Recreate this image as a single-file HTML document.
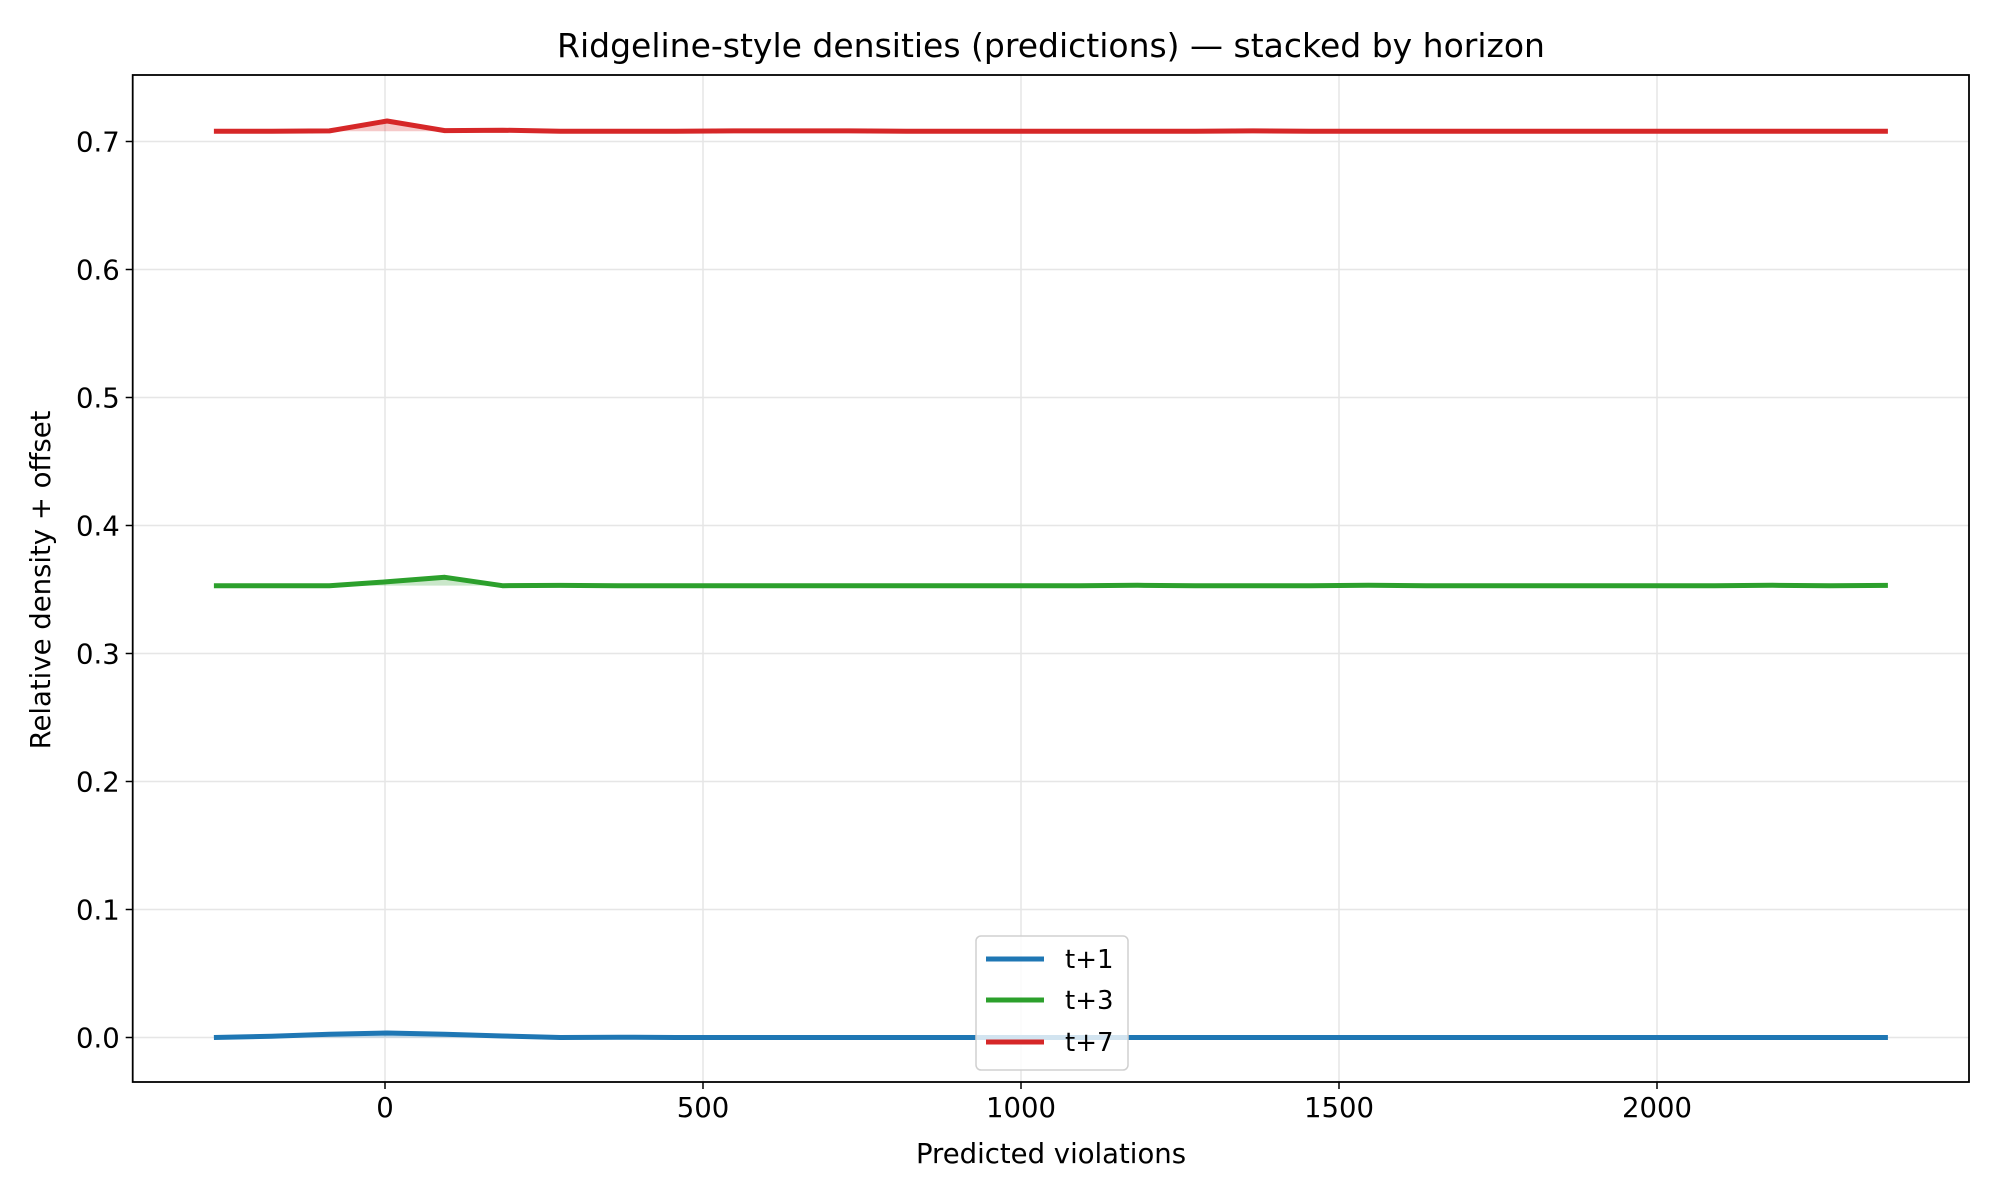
<!DOCTYPE html>
<html><head><meta charset="utf-8"><style>
body{margin:0;background:#fff}
svg{display:block;font-family:"DejaVu Sans","Liberation Sans",sans-serif}
</style></head><body>
<svg id="chart" width="2000" height="1200" viewBox="0 0 2000 1200">
<rect width="2000" height="1200" fill="#fff"/>
<text x="1051" y="57" font-size="33" text-anchor="middle">Ridgeline-style densities (predictions) — stacked by horizon</text>
<g id="grid"></g>
<g id="series"></g>
<g id="axes"></g>
<text x="1051" y="1163" font-size="27.5" text-anchor="middle">Predicted violations</text>
<text transform="translate(50,580) rotate(-90)" font-size="27.5" text-anchor="middle">Relative density + offset</text>
<g>
<rect x="976" y="936" width="152" height="134" rx="5" fill="#fff" fill-opacity="0.8" stroke="#d0d0d0" stroke-width="1.5"/>
<g><line x1="986" x2="1044" y1="959" y2="959" stroke="#1f77b4" stroke-width="5"/><text x="1065" y="968" font-size="26">t+1</text></g>
<g><line x1="986" x2="1044" y1="1000" y2="1000" stroke="#2ca02c" stroke-width="5"/><text x="1065" y="1009" font-size="26">t+3</text></g>
<g><line x1="986" x2="1044" y1="1042" y2="1042" stroke="#d62728" stroke-width="5"/><text x="1065" y="1051" font-size="26">t+7</text></g>
</g>
</svg>
<script>
const xTicks=[0,500,1000,1500,2000];
const yTicks=[0.0,0.1,0.2,0.3,0.4,0.5,0.6,0.7];
const xStart=-269, xEnd=2363, nPts=30;
const offsets=[0,0.353,0.708];
const colors=['#1f77b4','#2ca02c','#d62728'];
const names=['t1','t3','t7'];
const dens1=[0,0.001,0.0025,0.0035,0.0025,0.0012,0,0.0002,0,0,0,0,0,0,0,0,0,0,0,0,0,0,0,0,0,0,0,0,0,0];
const dens3=[0,0,0,0.003,0.0065,0,0.0002,0,0,0,0,0,0,0,0,0,0.0003,0,0,0,0.0003,0,0,0,0,0,0,0.0003,0,0.0002];
const dens7=[0,0,0.0003,0.008,0.0005,0.0008,0,0,0,0.0003,0.0003,0.0003,0,0,0,0,0,0,0.0003,0,0,0,0,0,0,0,0,0,0,0];
const dens=[dens1,dens3,dens7];
const L=132.7,R=1969,T=75,B=1082;
const X=v=>385+v*0.636;
const Y=v=>1037.5-v*1280;
const NS='http://www.w3.org/2000/svg';
function mk(tag,attrs,parent){const e=document.createElementNS(NS,tag);for(const k in attrs)e.setAttribute(k,attrs[k]);parent.appendChild(e);return e;}
const grid=document.getElementById('grid'),axes=document.getElementById('axes'),series=document.getElementById('series');
xTicks.forEach(t=>{
 const g=mk('line',{x1:X(t),x2:X(t),y1:T,y2:B,stroke:'#e6e6e6','stroke-width':1.5},grid);
 
 
 mk('line',{x1:X(t),x2:X(t),y1:B,y2:B+7,stroke:'#000','stroke-width':1.5},axes);
 const tx=mk('text',{x:X(t),y:B+35,'font-size':27.5,'text-anchor':'middle'},axes);
 tx.textContent=String(t);
 
 
});
yTicks.forEach(t=>{
 const g=mk('line',{x1:L,x2:R,y1:Y(t),y2:Y(t),stroke:'#e6e6e6','stroke-width':1.5},grid);
 
 
 mk('line',{x1:L-7,x2:L,y1:Y(t),y2:Y(t),stroke:'#000','stroke-width':1.5},axes);
 const tx=mk('text',{x:L-13,y:Y(t)+10,'font-size':27.5,'text-anchor':'end'},axes);
 tx.textContent=t.toFixed(1);
 
 
});
const frame=mk('rect',{x:L,y:T,width:R-L,height:B-T,fill:'none',stroke:'#000','stroke-width':1.8},axes);


dens.forEach((d,i)=>{
 const step=(xEnd-xStart)/(d.length-1);
 const pts=d.map((v,j)=>[X(xStart+j*step),Y(offsets[i]+v)]);
 const line=pts.map(p=>p[0].toFixed(1)+','+p[1].toFixed(1)).join(' ');
 const base=Y(offsets[i]);
 const fill=mk('polygon',{points:pts[0][0]+','+base+' '+line+' '+pts[pts.length-1][0]+','+base,fill:colors[i],'fill-opacity':0.25},series);
 
 
 const pl=mk('polyline',{points:line,fill:'none',stroke:colors[i],'stroke-width':5,'stroke-linejoin':'round'},series);
 
 
});
</script>
</body></html>
